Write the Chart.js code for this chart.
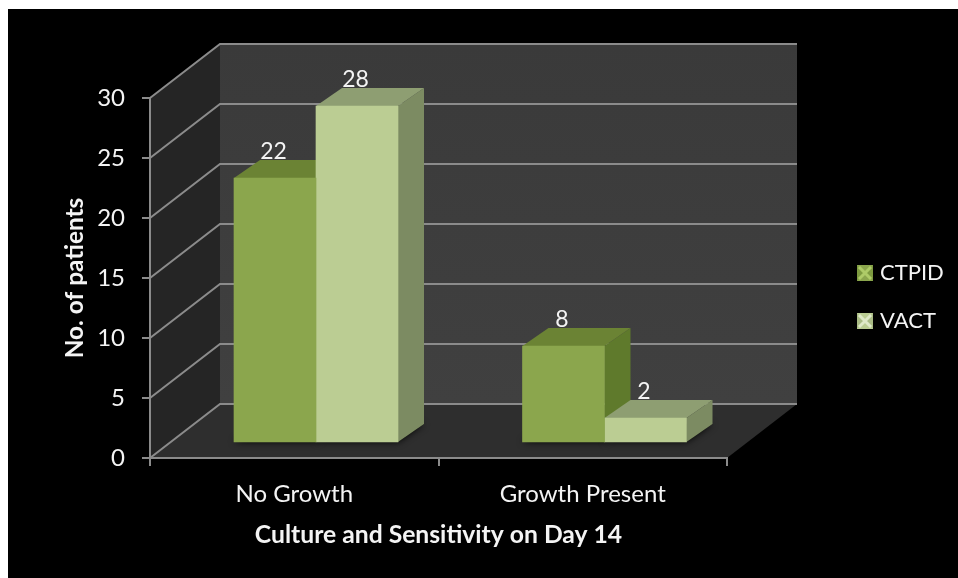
<!DOCTYPE html>
<html>
<head>
<meta charset="utf-8">
<title>Culture and Sensitivity on Day 14</title>
<script src="https://cdn.jsdelivr.net/npm/chart.js@4"></script>
<style>
  html, body { margin: 0; padding: 0; background: #fff; }
  canvas { display: block; filter: blur(0.5px); }
</style>
</head>
<body>
<canvas id="chart" width="958" height="578"></canvas>
<script>
var categories = ["No Growth", "Growth Present"];
var ctpidValues = [22, 8];
var vactValues = [28, 2];
var seriesNames = ["CTPID", "VACT"];
var yTickStep = 5;
var yAxisMax = 30;

// bar faces: front, top, side, legend edge, legend cross
var faceColors = [
  { front: "#8ba64d", top: "#6b8334", side: "#5f7a2c", edge: "#7d9a40", cross: "#aecb68" },
  { front: "#bbcd93", top: "#8e9e72", side: "#7c8b62", edge: "#a9bb84", cross: "#dfe9c8" }
];

// 3D projection of the box, px
var wallDepthX = 70;
var wallDepthY = -54;
var barDepthX = 26;
var barDepthY = -18;
var gridColor = "#8b8b8b";
var textColor = "#f4f4f4";
var fontFamily = "Lato, 'Open Sans', sans-serif";

function poly(ctx, pts, fill) {
  ctx.beginPath();
  ctx.moveTo(pts[0][0], pts[0][1]);
  for (var i = 1; i < pts.length; i++) ctx.lineTo(pts[i][0], pts[i][1]);
  ctx.closePath();
  ctx.fillStyle = fill;
  ctx.fill();
}

// Black page, walls, floor and gridlines of the box
var wallsPlugin = {
  id: "walls",
  beforeDraw: function (chart) {
    var ctx = chart.ctx;
    var area = chart.chartArea;
    var y = chart.scales.y;
    var l = area.left, r = area.right, t = area.top, b = area.bottom;
    var dx = wallDepthX, dy = wallDepthY;

    ctx.save();
    ctx.fillStyle = "#000";
    ctx.fillRect(8, 9, chart.width - 8, chart.height - 9);

    var wall = ctx.createLinearGradient(0, t + dy, 0, b + dy);
    wall.addColorStop(0, "#3a3a3a");
    wall.addColorStop(1, "#404040");
    poly(ctx, [[l + dx, t + dy], [r + dx, t + dy], [r + dx, b + dy], [l + dx, b + dy]], wall);
    poly(ctx, [[l, t], [l + dx, t + dy], [l + dx, b + dy], [l, b]], "#252525");
    poly(ctx, [[l, b], [l + dx, b + dy], [r + dx, b + dy], [r, b]], "#2e2e2e");

    ctx.strokeStyle = gridColor;
    ctx.lineWidth = 2;
    for (var v = 0; v <= yAxisMax; v += yTickStep) {
      var py = y.getPixelForValue(v);
      ctx.beginPath();
      ctx.moveTo(l, py);
      ctx.lineTo(l + dx, py + dy);
      ctx.lineTo(r + dx, py + dy);
      ctx.stroke();
    }
    ctx.restore();
  },
  // shadows, tops and sides go under the fronts the library draws
  beforeDatasetsDraw: function (chart) {
    var ctx = chart.ctx;
    ctx.save();
    chart.data.datasets.forEach(function (ds, i) {
      chart.getDatasetMeta(i).data.forEach(function (bar) {
        var l = bar.x - bar.width / 2, r = bar.x + bar.width / 2;
        ctx.save();
        ctx.shadowColor = "rgba(0,0,0,0.9)";
        ctx.shadowBlur = 7;
        poly(ctx, [[l, bar.base], [r, bar.base], [r + barDepthX, bar.base + barDepthY], [l + barDepthX, bar.base + barDepthY]], "#000");
        ctx.restore();
      });
    });
    chart.data.datasets.forEach(function (ds, i) {
      var c = faceColors[i];
      chart.getDatasetMeta(i).data.forEach(function (bar) {
        var l = bar.x - bar.width / 2, r = bar.x + bar.width / 2;
        poly(ctx, [[r, bar.y], [r + barDepthX, bar.y + barDepthY], [r + barDepthX, bar.base + barDepthY], [r, bar.base]], c.side);
        poly(ctx, [[l, bar.y], [l + barDepthX, bar.y + barDepthY], [r + barDepthX, bar.y + barDepthY], [r, bar.y]], c.top);
      });
    });
    ctx.restore();
  },
  afterDatasetsDraw: function (chart) {
    var ctx = chart.ctx;
    ctx.save();
    ctx.fillStyle = textColor;
    ctx.font = "23px " + fontFamily;
    ctx.textAlign = "center";
    ctx.textBaseline = "middle";
    chart.data.datasets.forEach(function (ds, i) {
      chart.getDatasetMeta(i).data.forEach(function (bar, j) {
        ctx.fillText(String(ds.data[j].y), bar.x - 1.5, bar.y - 26);
      });
    });
    ctx.restore();
  },
  // Legend with the bevelled marker of the original
  afterDraw: function (chart) {
    var ctx = chart.ctx;
    var legendX = 857, size = 16;
    var rows = [265, 313];
    ctx.save();
    chart.data.datasets.forEach(function (ds, i) {
      var c = faceColors[i];
      var top = rows[i];
      ctx.fillStyle = c.edge;
      ctx.fillRect(legendX, top, size, size);
      poly(ctx, [[legendX, top], [legendX + size, top], [legendX + size / 2, top + size / 2]], c.front);
      poly(ctx, [[legendX, top + size], [legendX + size, top + size], [legendX + size / 2, top + size / 2]], c.front);
      ctx.strokeStyle = c.cross;
      ctx.lineWidth = 3;
      ctx.beginPath();
      ctx.moveTo(legendX + 2, top + 2);
      ctx.lineTo(legendX + size - 2, top + size - 2);
      ctx.moveTo(legendX + size - 2, top + 2);
      ctx.lineTo(legendX + 2, top + size - 2);
      ctx.stroke();
      ctx.fillStyle = textColor;
      ctx.font = "22px " + fontFamily;
      ctx.textAlign = "left";
      ctx.textBaseline = "middle";
      ctx.fillText(ds.label, 880, top + size / 2);
    });
    ctx.restore();
  }
};

function toPoints(values) {
  return values.map(function (v, i) { return { x: i, y: v }; });
}

new Chart(document.getElementById("chart"), {
  type: "bar",
  data: {
    labels: categories,
    datasets: [
      { label: seriesNames[0], data: toPoints(ctpidValues), backgroundColor: faceColors[0].front, xAxisID: "xBars", yAxisID: "yBars", barThickness: 82, borderWidth: 0 },
      { label: seriesNames[1], data: toPoints(vactValues), backgroundColor: faceColors[1].front, xAxisID: "xBars", yAxisID: "yBars", barThickness: 82, borderWidth: 0 }
    ]
  },
  options: {
    responsive: false,
    animation: false,
    layout: { padding: { left: 60.6, top: 98, right: 231, bottom: 28.6 } },
    plugins: {
      legend: { display: false },
      tooltip: { enabled: false }
    },
    scales: {
      x: {
        type: "category",
        offset: true,
        grid: { offset: true, drawOnChartArea: false, color: gridColor, lineWidth: 2, tickLength: 8 },
        border: { display: true, color: gridColor, width: 2 },
        ticks: { color: textColor, padding: 14, font: { family: fontFamily, size: 24 } },
        title: {
          display: true,
          text: "Culture and Sensitivity on Day 14",
          color: textColor,
          padding: 0,
          font: { family: fontFamily, size: 24.7, weight: "bold" }
        },
        afterFit: function (scale) { scale.height = 91.4; }
      },
      y: {
        type: "linear",
        min: 0,
        max: yAxisMax,
        grid: { drawOnChartArea: false, color: gridColor, lineWidth: 2, tickLength: 8 },
        border: { display: true, color: gridColor, width: 2 },
        ticks: { stepSize: yTickStep, color: textColor, padding: 17, font: { family: fontFamily, size: 24 } },
        title: {
          display: true,
          text: "No. of patients",
          color: textColor,
          padding: 0,
          font: { family: fontFamily, size: 24.4, weight: "bold" }
        },
        afterFit: function (scale) { scale.width = 89.4; }
      },
      // the bars stand further back on the floor than the front axes
      xBars: { type: "linear", axis: "x", display: false, offset: false, min: -0.5754, max: 1.4246 },
      yBars: { type: "linear", axis: "y", display: false, min: -1.3333, max: 28.6667 }
    }
  },
  plugins: [wallsPlugin]
});
</script>
</body>
</html>
